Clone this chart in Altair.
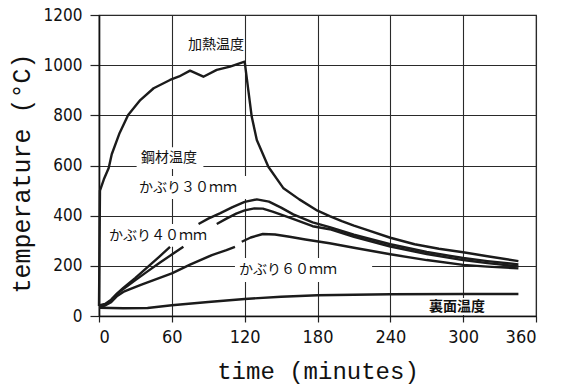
import altair as alt
import pandas as pd

# Furnace (heating) temperature, time in minutes / temperature in deg C
furnace_t = [0, 0.8, 4, 8, 10.5, 17, 24, 34, 45, 58.5, 66, 75, 86, 97, 108, 120,
             125.8, 130, 139.5, 152, 165, 180, 190, 200, 210, 220, 240, 260, 280, 300, 320, 345.5]
furnace_T = [40, 500, 545, 590, 645, 730, 801, 861, 908, 941, 955, 978, 954, 981, 994, 1014,
             795, 702, 595, 509, 465, 420, 398, 378, 360, 344, 312, 286, 268, 254, 238, 219]

# Steel temperature at 30 mm cover (None = break in the drawn curve)
cover30_t = [0, 5, 10, 15, 20, 30, 40, 50, 58.5, None,
             82, 90, 100, 110, 120, 130, 140, 150, 160, 176, 190, 210, 240, 270, 300, 320, 345.5]
cover30_T = [42, 48, 65, 90, 112, 152, 195, 238, 276, None,
             367, 388, 410, 434, 455, 465, 456, 432, 405, 373, 354, 324, 286, 255, 231, 219, 206]

# Steel temperature at 40 mm cover
cover40_t = [0, 5, 10, 15, 20, 30, 40, 50, 60, 69.5, None,
             97, 105, 113, 120, 128, 135, 143, 157, 176, 190, 210, 240, 270, 300, 320, 345.5]
cover40_T = [40, 45, 62, 88, 108, 143, 178, 212, 245, 276, None,
             367, 388, 408, 421, 429, 428, 416, 392, 358, 346, 316, 277, 247, 223, 211, 198]

# Steel temperature at 60 mm cover
cover60_t = [0, 5, 10, 15, 20, 24, 35, 45, 60, 75, 93, 105, 112, None,
             117.6, 125, 135, 145, 157, 170, 182, 190, 210, 240, 270, 300, 320, 345.5]
cover60_T = [38, 42, 55, 80, 96, 104, 125, 143, 170, 205, 243, 263, 276, None,
             296, 313, 327, 325, 316, 305, 296, 290, 272, 246, 223, 204, 197, 190]

# Unexposed (back) surface temperature
back_t = [0, 20, 40, 60, 90, 120, 150, 180, 240, 300, 345.5]
back_T = [33, 31, 32, 43, 56, 68, 77, 83, 87, 88, 88]

x_ticks = [0, 60, 120, 180, 240, 300, 360]
y_ticks = [0, 200, 400, 600, 800, 1000, 1200]

# Curve labels: text, anchor time, anchor temperature
label_text = ["加熱温度", "鋼材温度", "かぶり３０ｍｍ", "かぶり４０ｍｍ", "かぶり６０ｍｍ"]
label_t = [96.4, 57.7, 73.3, 48.6, 155.7]
label_T = [1080, 630, 510, 319, 183]

back_label = ["裏面温度"]
back_label_t = [295]
back_label_T = [36]

# White boxes behind the labels so the grid does not run through the text
box_t1 = [31, 31, 5, 112, 268]
box_t2 = [86, 124, 100, 225, 322]
box_T1 = [586, 466, 276, 136, 4]
box_T2 = [673, 558, 367, 231, 72]


def curve_frame(name, ts, temps):
    rows, seg = [], 0
    for i, (t, v) in enumerate(zip(ts, temps)):
        if t is None:
            seg += 1
            continue
        rows.append({"curve": name, "seg": f"{name}-{seg}", "order": i, "t": t, "T": v})
    return rows


rows = []
rows += curve_frame("furnace", furnace_t, furnace_T)
rows += curve_frame("c30", cover30_t, cover30_T)
rows += curve_frame("c40", cover40_t, cover40_T)
rows += curve_frame("c60", cover60_t, cover60_T)
rows += curve_frame("back", back_t, back_T)
curves = pd.DataFrame(rows)

labels = pd.DataFrame({"text": label_text, "t": label_t, "T": label_T})
back_labels = pd.DataFrame({"text": back_label, "t": back_label_t, "T": back_label_T})
boxes = pd.DataFrame({"t1": box_t1, "t2": box_t2, "T1": box_T1, "T2": box_T2})

x_scale = alt.Scale(domain=[0, 360], nice=False, zero=False)
y_scale = alt.Scale(domain=[0, 1200], nice=False)

tick_font = "DejaVu Sans Condensed"

x_axis = alt.Axis(
    values=x_ticks, format="d", title="time  (minutes)", grid=True,
    labelFont=tick_font, labelFontSize=18, labelColor="#111",
    labelPadding=6, tickSize=6, tickColor="#222", tickWidth=1.2,
    domainColor="#111", domainWidth=1.6,
    gridColor="#2a2a2a", gridWidth=1.1,
    titleFont="Liberation Mono", titleFontSize=24, titleFontWeight="normal",
    titleColor="#111", titleY=62, titleBaseline="alphabetic",
)
y_axis = alt.Axis(
    values=y_ticks, format="d", title="temperature  (°C)", grid=True,
    labelFont=tick_font, labelFontSize=17, labelColor="#111",
    labelPadding=8, tickSize=9, tickColor="#222", tickWidth=1.2,
    domainColor="#111", domainWidth=1.6,
    gridColor="#2a2a2a", gridWidth=1.1,
    titleFont="Liberation Mono", titleFontSize=25, titleFontWeight="normal",
    titleColor="#111", titleAngle=270, titleX=-70, titleY=158,
    titleBaseline="alphabetic", titleAlign="center",
)

masks = alt.Chart(boxes).mark_rect(fill="white", strokeWidth=0).encode(
    x=alt.X("t1:Q", scale=x_scale, axis=x_axis),
    x2="t2:Q",
    y=alt.Y("T1:Q", scale=y_scale, axis=y_axis),
    y2="T2:Q",
)

lines = alt.Chart(curves).mark_line(color="#1b1b1b", strokeWidth=2.4, strokeJoin="round").encode(
    x=alt.X("t:Q", scale=x_scale),
    y=alt.Y("T:Q", scale=y_scale),
    detail="seg:N",
    order="order:Q",
)

text = alt.Chart(labels).mark_text(
    font="Noto Sans CJK JP", fontSize=14, color="#111", align="center", baseline="middle"
).encode(
    x=alt.X("t:Q", scale=x_scale),
    y=alt.Y("T:Q", scale=y_scale),
    text="text:N",
)

back_text = alt.Chart(back_labels).mark_text(
    font="Noto Sans CJK JP", fontSize=14, fontWeight="bold", color="#111",
    align="center", baseline="middle"
).encode(
    x=alt.X("t:Q", scale=x_scale),
    y=alt.Y("T:Q", scale=y_scale),
    text="text:N",
)

chart = alt.layer(masks, lines, text, back_text).properties(
    width=437, height=301,
    autosize=alt.AutoSizeParams(type="none"),
    padding={"left": 99, "top": 15, "right": 28, "bottom": 70},
    background="white",
).configure_view(stroke="#222", strokeWidth=1.2)

chart.save("out.html", embed_options={"renderer": "svg", "actions": False})
